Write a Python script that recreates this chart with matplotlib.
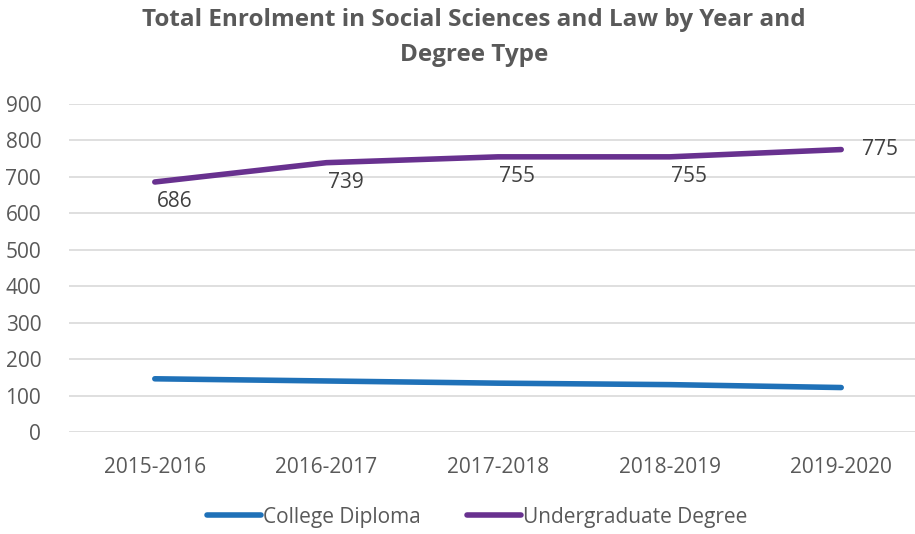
import matplotlib.pyplot as plt

plt.rcParams['font.family'] = ['Open Sans', 'DejaVu Sans']

# years and enrolment per degree type
years = ["2015-2016", "2016-2017", "2017-2018", "2018-2019", "2019-2020"]
college = [146, 140, 134, 130, 122]
undergrad = [686, 739, 755, 755, 775]

fig = plt.figure(figsize=(9.15, 5.34), dpi=100)
ax = fig.add_axes([69 / 915, 1 - 432 / 534, 858 / 915, (432 - 104) / 534])

x = list(range(len(years)))
ax.plot(x, college, color="#1f71b8", linewidth=4, solid_capstyle="round", label="College Diploma")
ax.plot(x, undergrad, color="#68318f", linewidth=4, solid_capstyle="round", label="Undergraduate Degree")

# data labels on the undergraduate line
for i, v in enumerate(undergrad):
    if i == len(undergrad) - 1:
        ax.annotate(str(v), (i, v), xytext=(15, 0), textcoords="offset points",
                    ha="left", va="center", fontsize=15, color="#404040")
    else:
        ax.annotate(str(v), (i, v), xytext=(14, -14), textcoords="offset points",
                    ha="center", va="center", fontsize=15, color="#404040")

ax.set_xlim(-0.5, 4.5)
ax.set_ylim(0, 900)
ax.set_yticks(range(0, 901, 100))
ax.set_xticks(x)
ax.set_xticklabels(years)
ax.grid(axis="y", color="#d9d9d9", linewidth=1.2)
ax.set_axisbelow(True)
for s in ax.spines.values():
    s.set_visible(False)
ax.tick_params(length=0, labelsize=15, labelcolor="#595959")
ax.tick_params(axis="x", pad=18)
ax.tick_params(axis="y", pad=20)

fig.suptitle("Total Enrolment in Social Sciences and Law by Year and\nDegree Type",
             x=474 / 915, y=0.985, fontsize=17.5, fontweight="bold", color="#595959",
             linespacing=1.6)

fig.legend(loc="center", bbox_to_anchor=(477 / 915, 1 - 517 / 534), ncol=2, frameon=False,
           fontsize=15, labelcolor="#595959", handlelength=2.6, handletextpad=0.1,
           columnspacing=2.2)

fig.savefig("out.png", dpi=100)
